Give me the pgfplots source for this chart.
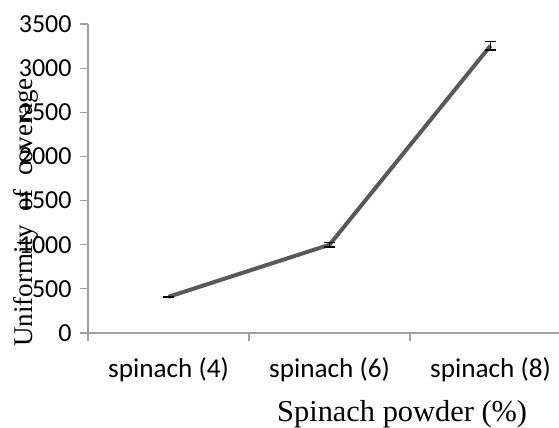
\documentclass[border=0pt]{standalone}
\usepackage{fontspec}
\setmainfont{Liberation Serif}
\newfontfamily\calibri{Carlito}
\usepackage{pgfplots}
\pgfplotsset{compat=1.18}
\definecolor{linegray}{RGB}{89,89,89}
\definecolor{axgray}{RGB}{160,160,160}
\begin{document}
\begin{tikzpicture}
\path[use as bounding box] (0,0) rectangle (279.5pt,214pt);
\begin{axis}[
  at={(44pt,47.5pt)}, anchor=south west,
  scale only axis, width=235.5pt, height=154.5pt,
  xmin=-0.5, xmax=2.425, ymin=0, ymax=3500,
  axis lines*=left,
  axis line style={axgray, line width=0.6pt},
  ytick={0,500,...,3500},
  xtick={0,1,2},
  xticklabels={spinach (4),spinach (6),spinach (8)},
  minor xtick={-0.5,0.5,1.5},
  tick align=outside,
  major tick length=4pt, minor tick length=4pt,
  tick style={axgray, line width=0.6pt},
  major x tick style={draw=none},
  minor x tick style={axgray, line width=0.6pt},
  ticklabel style={font=\calibri\fontsize{13}{15}\selectfont},
  /pgf/number format/assume math mode=true,
  /pgf/number format/1000 sep={},
  yticklabel style={anchor=east, inner sep=0pt, xshift=-4pt},
  xticklabel style={anchor=north, inner sep=0pt, yshift=-8pt, font=\calibri\fontsize{13.6}{15}\selectfont},
  xlabel={Spinach powder (\%)},
  xlabel style={at={(axis description cs:0.667,0)}, anchor=base, yshift=-44.5pt, inner sep=0pt, font=\fontsize{15.2}{17}\selectfont},
  ylabel={Uniformity \ of \ coverage},
  ylabel style={at={(axis description cs:0,0.39)}, anchor=center, yshift=31pt, inner sep=0pt, font=\fontsize{13.5}{15}\selectfont},
  clip=false,
]
\addplot[color=linegray, line width=2pt, mark=none,
  error bars/.cd, y dir=both, y explicit,
  error bar style={black, line width=0.6pt},
  error mark options={rotate=90, mark size=2.75pt, black, line width=0.6pt}]
  coordinates {
    (0,410) +- (0,5)
    (1,1000) +- (0,25)
    (2,3255) +- (0,50)
  };
\end{axis}
\end{tikzpicture}
\end{document}
